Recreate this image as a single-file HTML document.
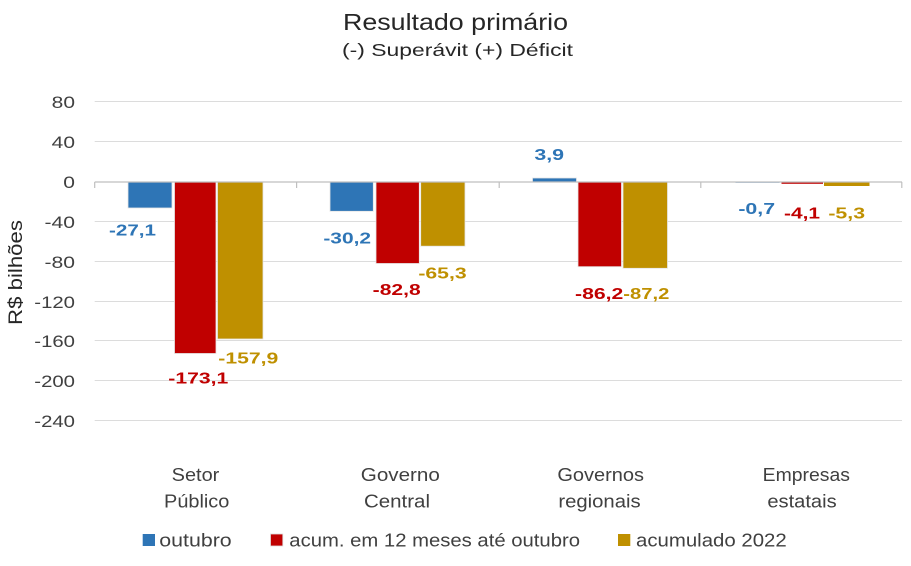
<!DOCTYPE html>
<html>
<head>
<meta charset="utf-8">
<style>
  html, body { margin: 0; padding: 0; background: #ffffff; }
  svg { display: block; }
  text { font-family: "Liberation Sans", sans-serif; }
</style>
</head>
<body>
<svg width="911" height="566" viewBox="0 0 911 566" xmlns="http://www.w3.org/2000/svg">
  <rect x="0" y="0" width="911" height="566" fill="#ffffff"/>

  <!-- Title -->
  <text x="455.5" y="30" font-size="23" fill="#262626" text-anchor="middle" textLength="225" lengthAdjust="spacingAndGlyphs">Resultado primário</text>
  <text x="457.5" y="56" font-size="17.5" fill="#262626" text-anchor="middle" textLength="231" lengthAdjust="spacingAndGlyphs">(-) Superávit  (+) Déficit</text>

  <!-- Gridlines -->
  <g stroke="#dcdcdc" stroke-width="1">
    <line x1="94.7" y1="101.5" x2="902" y2="101.5"/>
    <line x1="94.7" y1="141.5" x2="902" y2="141.5"/>
    <line x1="94.7" y1="221.5" x2="902" y2="221.5"/>
    <line x1="94.7" y1="261.5" x2="902" y2="261.5"/>
    <line x1="94.7" y1="301.5" x2="902" y2="301.5"/>
    <line x1="94.7" y1="340.5" x2="902" y2="340.5"/>
    <line x1="94.7" y1="380.5" x2="902" y2="380.5"/>
    <line x1="94.7" y1="420.5" x2="902" y2="420.5"/>
  </g>

  <!-- Y tick labels -->
  <g font-size="17" fill="#404040" text-anchor="end">
    <text x="75" y="108" textLength="23.3" lengthAdjust="spacingAndGlyphs">80</text>
    <text x="75" y="148" textLength="23.3" lengthAdjust="spacingAndGlyphs">40</text>
    <text x="75" y="188" textLength="11.7" lengthAdjust="spacingAndGlyphs">0</text>
    <text x="75" y="228" textLength="30.5" lengthAdjust="spacingAndGlyphs">-40</text>
    <text x="75" y="268" textLength="30.5" lengthAdjust="spacingAndGlyphs">-80</text>
    <text x="75" y="308" textLength="40.7" lengthAdjust="spacingAndGlyphs">-120</text>
    <text x="75" y="347" textLength="40.7" lengthAdjust="spacingAndGlyphs">-160</text>
    <text x="75" y="387" textLength="40.7" lengthAdjust="spacingAndGlyphs">-200</text>
    <text x="75" y="427" textLength="40.7" lengthAdjust="spacingAndGlyphs">-240</text>
  </g>

  <!-- Y axis title -->
  <text transform="translate(22,272.5) rotate(-90)" x="0" y="0" font-size="19" fill="#262626" text-anchor="middle" textLength="105" lengthAdjust="spacingAndGlyphs">R$ bilhões</text>

  <!-- Bars -->
  <g stroke="#e6e6e6" stroke-width="0.8">
    <!-- Setor Público, center 195.6 -->
    <rect x="128" y="182" width="44" height="26" fill="#2E75B6"/>
    <rect x="174.5" y="182" width="41.5" height="171.5" fill="#C00000"/>
    <rect x="217.5" y="182" width="45.5" height="157" fill="#BF9000"/>
    <!-- Governo Central, center 397.4 -->
    <rect x="330" y="182" width="43.3" height="29.3" fill="#2E75B6"/>
    <rect x="376" y="182" width="43.3" height="81.5" fill="#C00000"/>
    <rect x="420.7" y="182" width="44.3" height="64.2" fill="#BF9000"/>
    <!-- Governos regionais, center 599.2 -->
    <rect x="532.5" y="178" width="44" height="4" fill="#2E75B6"/>
    <rect x="578" y="182" width="43.5" height="84.7" fill="#C00000"/>
    <rect x="623" y="182" width="44.5" height="86.3" fill="#BF9000"/>
    <!-- Empresas estatais, center 801 -->
    <rect x="735.5" y="182" width="44" height="0.7" fill="#2E75B6" stroke="none"/>
    <rect x="781.5" y="182" width="41.5" height="1.8" fill="#C00000" stroke="none"/>
    <rect x="824" y="182" width="45.5" height="4" fill="#BF9000" stroke="none"/>
  </g>

  <!-- Zero axis -->
  <line x1="94.7" y1="182" x2="902" y2="182" stroke="#bfbfbf" stroke-width="1.2"/>
  <g stroke="#bfbfbf" stroke-width="1.2">
    <line x1="94.7" y1="182" x2="94.7" y2="188"/>
    <line x1="296.6" y1="182" x2="296.6" y2="188"/>
    <line x1="499.2" y1="182" x2="499.2" y2="188"/>
    <line x1="700.8" y1="182" x2="700.8" y2="188"/>
    <line x1="901.8" y1="182" x2="901.8" y2="188"/>
  </g>

  <!-- Data labels -->
  <g font-size="16" font-weight="bold" text-anchor="middle">
    <text x="132.5" y="235.7" fill="#2E75B6" textLength="47" lengthAdjust="spacingAndGlyphs">-27,1</text>
    <text x="198.3" y="383.5" fill="#C00000" textLength="60" lengthAdjust="spacingAndGlyphs">-173,1</text>
    <text x="248.3" y="363.5" fill="#BF9000" textLength="60" lengthAdjust="spacingAndGlyphs">-157,9</text>

    <text x="347.2" y="243.3" fill="#2E75B6" textLength="47.7" lengthAdjust="spacingAndGlyphs">-30,2</text>
    <text x="396.7" y="295" fill="#C00000" textLength="48" lengthAdjust="spacingAndGlyphs">-82,8</text>
    <text x="442.5" y="278.3" fill="#BF9000" textLength="48.3" lengthAdjust="spacingAndGlyphs">-65,3</text>

    <text x="549.2" y="160" fill="#2E75B6" textLength="29.7" lengthAdjust="spacingAndGlyphs">3,9</text>
    <text x="599.2" y="299" fill="#C00000" textLength="48.3" lengthAdjust="spacingAndGlyphs">-86,2</text>
    <text x="646.3" y="299" fill="#BF9000" textLength="46" lengthAdjust="spacingAndGlyphs">-87,2</text>

    <text x="756.7" y="214" fill="#2E75B6" textLength="36.7" lengthAdjust="spacingAndGlyphs">-0,7</text>
    <text x="802" y="218.3" fill="#C00000" textLength="36" lengthAdjust="spacingAndGlyphs">-4,1</text>
    <text x="846.7" y="218.3" fill="#BF9000" textLength="36.7" lengthAdjust="spacingAndGlyphs">-5,3</text>
  </g>

  <!-- Category labels -->
  <g font-size="18.5" fill="#404040" text-anchor="middle">
    <text x="195.5" y="481" textLength="47.6" lengthAdjust="spacingAndGlyphs">Setor</text>
    <text x="196.7" y="507.7" textLength="65.3" lengthAdjust="spacingAndGlyphs">Público</text>
    <text x="400.3" y="481" textLength="79" lengthAdjust="spacingAndGlyphs">Governo</text>
    <text x="397" y="507.7" textLength="66" lengthAdjust="spacingAndGlyphs">Central</text>
    <text x="600.7" y="481" textLength="86.7" lengthAdjust="spacingAndGlyphs">Governos</text>
    <text x="599.5" y="507.7" textLength="82.3" lengthAdjust="spacingAndGlyphs">regionais</text>
    <text x="806.3" y="481" textLength="87.3" lengthAdjust="spacingAndGlyphs">Empresas</text>
    <text x="802" y="507.7" textLength="69.3" lengthAdjust="spacingAndGlyphs">estatais</text>
  </g>

  <!-- Legend -->
  <rect x="142.7" y="534" width="12.3" height="12" fill="#2E75B6"/>
  <text x="159.3" y="546.5" font-size="18" fill="#404040" textLength="72.4" lengthAdjust="spacingAndGlyphs">outubro</text>
  <rect x="270.5" y="534" width="12.3" height="12" fill="#C00000" stroke="#dddddd" stroke-width="0.8"/>
  <text x="289.3" y="546.5" font-size="18" fill="#404040" textLength="290.7" lengthAdjust="spacingAndGlyphs">acum. em 12 meses até outubro</text>
  <rect x="618" y="534" width="12.3" height="12" fill="#BF9000"/>
  <text x="636" y="546.5" font-size="18" fill="#404040" textLength="150.7" lengthAdjust="spacingAndGlyphs">acumulado 2022</text>
</svg>
</body>
</html>
